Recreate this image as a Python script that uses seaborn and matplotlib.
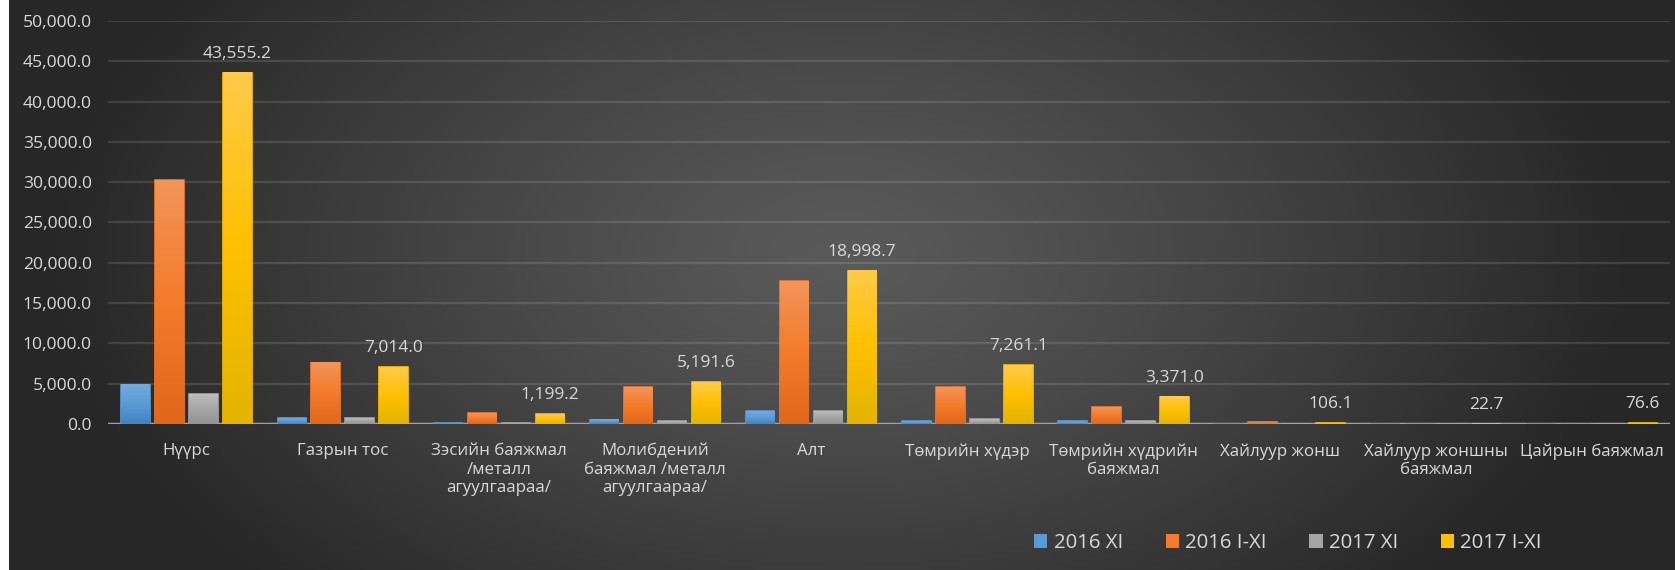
import numpy as np
import pandas as pd
import seaborn as sns
import matplotlib.pyplot as plt
from matplotlib.colors import LinearSegmentedColormap, to_rgb
from matplotlib.patches import Patch
from matplotlib.ticker import FuncFormatter, MultipleLocator

# categories and series
categories = ["Нүүрс", "Газрын тос", "Зэсийн баяжмал\n/металл\nагуулгаараа/",
              "Молибдений\nбаяжмал /металл\nагуулгаараа/", "Алт", "Төмрийн хүдэр",
              "Төмрийн хүдрийн\nбаяжмал", "Хайлуур жонш", "Хайлуур жоншны\nбаяжмал",
              "Цайрын баяжмал"]
series_names = ["2016 XI", "2016 I-XI", "2017 XI", "2017 I-XI"]
s2016_xi = [4840, 740, 100, 500, 1610, 370, 370, 20, 5, 5]
s2016_ixi = [30270, 7570, 1360, 4590, 17740, 4590, 2100, 200, 10, 10]
s2017_xi = [3720, 740, 100, 370, 1610, 620, 370, 10, 5, 5]
s2017_ixi = [43555.2, 7014.0, 1199.2, 5191.6, 18998.7, 7261.1, 3371.0, 106.1, 22.7, 76.6]

# top / middle / bottom shades for the bar gradients
grads = {
    "2016 XI": ["#74aadf", "#5b9bd5", "#4382c3"],
    "2016 I-XI": ["#f29459", "#f47b2a", "#e1681a"],
    "2017 XI": ["#bcbcbc", "#a5a5a5", "#939393"],
    "2017 I-XI": ["#ffca48", "#ffc000", "#e3b400"],
}

df = pd.DataFrame({
    "cat": categories * 4,
    "series": np.repeat(series_names, len(categories)),
    "value": s2016_xi + s2016_ixi + s2017_xi + s2017_ixi,
})

sns.set_style("white")
plt.rcParams["font.family"] = ["Open Sans", "DejaVu Sans"]
txt = "#d9d9d9"

W, H = 1675, 570
fig = plt.figure(figsize=(W / 100, H / 100), dpi=100, facecolor="white")
ax = fig.add_axes([108.5 / W, 1 - 424 / H, (1670 - 108.5) / W, (424 - 21) / H])

# dark radial background
bg = fig.add_axes([9 / W, 0, 1 - 9 / W, 1], zorder=-1)
gx, gy = np.meshgrid(np.linspace(-1, 1, 400), np.linspace(-1, 1, 140))
d = np.clip(np.sqrt((gx * 1.05) ** 2 + 0.35 * (gy + 0.1) ** 2), 0, 1) ** 1.2
c0, c1 = np.array(to_rgb("#5a5a5a")), np.array(to_rgb("#272727"))
img = c0[None, None, :] * (1 - d[..., None]) + c1[None, None, :] * d[..., None]
bg.imshow(img, aspect="auto", extent=(0, 1, 0, 1))
bg.axis("off")
ax.patch.set_alpha(0)

palette = {k: v[1] for k, v in grads.items()}
sns.barplot(data=df, x="cat", y="value", hue="series", hue_order=series_names,
            order=categories, palette=palette, width=0.87, gap=0.16,
            legend=False, ax=ax, zorder=3)

# gradient fill inside each bar
for cont, name in zip(ax.containers, series_names):
    cmap = LinearSegmentedColormap.from_list(name, grads[name][::-1])
    for p in cont.patches:
        p.set_edgecolor(grads[name][1])
        p.set_linewidth(1.2)
        x0, h, w = p.get_x(), p.get_height(), p.get_width()
        ax.imshow(np.linspace(1, 0, 64)[:, None], cmap=cmap, aspect="auto",
                  extent=(x0, x0 + w, 0, h), zorder=4, interpolation="bicubic")

# data labels on the last series
ax.bar_label(ax.containers[3], labels=[f"{v:,.1f}" for v in s2017_ixi],
             padding=8, color=txt, fontsize=12.5, zorder=6)

ax.set_xlim(-0.5, len(categories) - 0.5)
ax.set_ylim(0, 50000)
ax.yaxis.set_major_locator(MultipleLocator(5000))
ax.yaxis.set_major_formatter(FuncFormatter(lambda v, _: f"{v:,.1f}"))
ax.grid(axis="y", color="white", alpha=0.12, lw=1.6, zorder=0)
ax.set_axisbelow(True)
ax.axhline(0, color="#a0a0a0", lw=2.5, zorder=2)
sns.despine(ax=ax, left=True, bottom=True)
ax.tick_params(axis="y", length=0, pad=12, labelsize=12.6, labelcolor=txt)
ax.tick_params(axis="x", length=0, pad=14, labelsize=12.2, labelcolor=txt)
ax.set_xlabel("")
ax.set_ylabel("")

handles = [Patch(facecolor=grads[n][1], edgecolor="none") for n in series_names]
fig.legend(handles, series_names, loc="center", bbox_to_anchor=(1288 / W, 1 - 543 / H),
           ncol=4, frameon=False, fontsize=14.7, labelcolor=txt, handlelength=0.65,
           handleheight=0.65, handletextpad=0.3, columnspacing=2.1)

fig.savefig("out.png", dpi=100)
